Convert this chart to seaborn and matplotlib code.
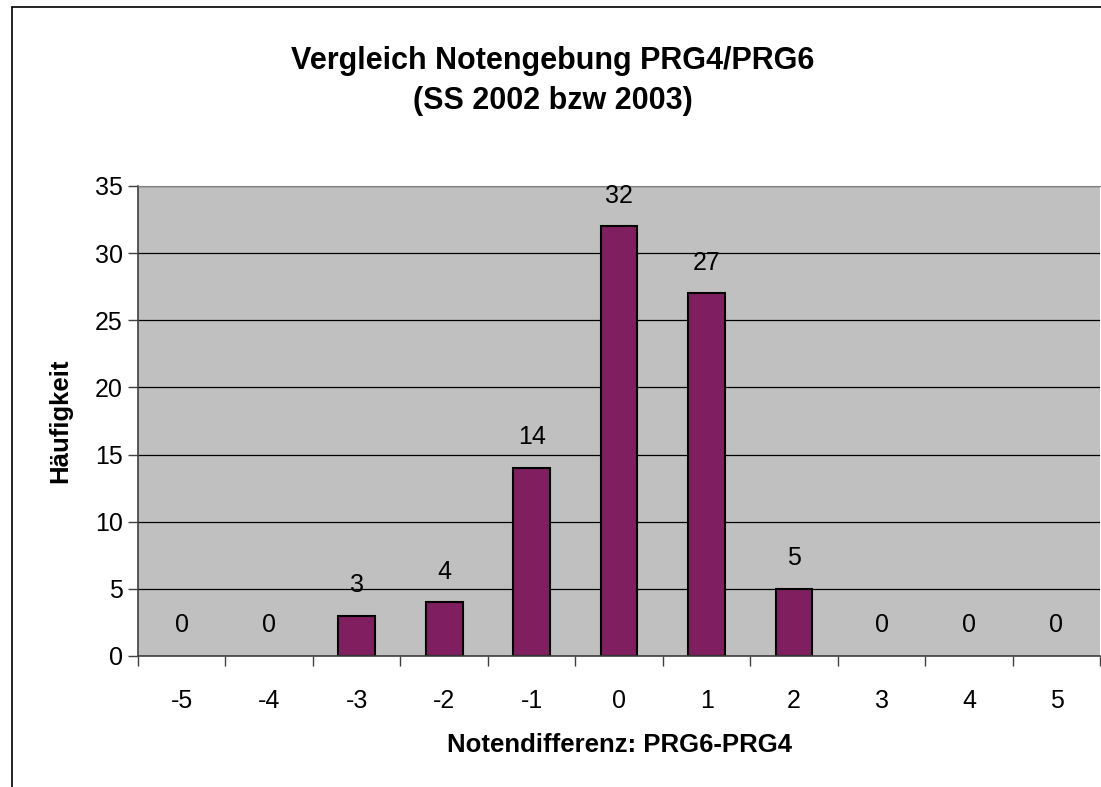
import matplotlib
matplotlib.use("Agg")
import matplotlib.pyplot as plt
import seaborn as sns
import pandas as pd
import numpy as np

# Notendifferenz PRG6-PRG4 and how often it occurred
differenz = ["-5", "-4", "-3", "-2", "-1", "0", "1", "2", "3", "4", "5"]
haeufigkeit = [0, 0, 3, 4, 14, 32, 27, 5, 0, 0, 0]

title = "Vergleich Notengebung PRG4/PRG6\n(SS 2002 bzw 2003)"
xlabel = "Notendifferenz: PRG6-PRG4"
ylabel = "Häufigkeit"

df = pd.DataFrame({"diff": differenz, "count": haeufigkeit})

sns.set_style("white")
plt.rcParams["font.family"] = ["Liberation Sans", "DejaVu Sans"]
plt.rcParams["text.color"] = "black"
plt.rcParams["xtick.color"] = "black"
plt.rcParams["ytick.color"] = "black"
plt.rcParams["axes.labelcolor"] = "black"

fig = plt.figure(figsize=(11.01, 7.87), dpi=100)
ax = fig.add_axes([0.1253, 0.1665, 0.874, 0.5972])
ax.set_facecolor("#c0c0c0")

sns.barplot(data=df, x="diff", y="count", order=differenz, color="#7f1f5f",
            saturation=1, width=0.42, edgecolor="black", linewidth=1.5, ax=ax)
# no visible outline for empty bars
for p in ax.patches:
    if p.get_height() == 0:
        p.set_linewidth(0)

ax.set_ylim(0, 35)
ax.set_xlim(-0.5, len(differenz) - 0.5)
ax.set_yticks(range(0, 36, 5))
ax.yaxis.grid(True, color="black", linewidth=0.9)
ax.set_axisbelow(True)

# data labels above each bar
for i, v in enumerate(haeufigkeit):
    ax.annotate(str(v), (i, v), xytext=(0, 22), textcoords="offset points",
                ha="center", va="center", fontsize=18)

# ticks between categories, labels at centers
ax.tick_params(axis="x", which="major", length=0, pad=24, labelsize=18)
ax.set_xticks(np.arange(-0.5, len(differenz)), minor=True)
ax.tick_params(axis="x", which="minor", length=7, width=1, color="#404040",
               direction="out", bottom=True)
ax.tick_params(axis="y", length=7, width=1, color="#404040", direction="out",
               left=True, pad=4, labelsize=18)

ax.spines["right"].set_visible(False)
ax.spines["left"].set_color("#404040")
ax.spines["bottom"].set_color("#404040")
ax.spines["top"].set_color("#808080")
ax.spines["left"].set_linewidth(1.2)
ax.spines["bottom"].set_linewidth(1.2)

ax.set_xlabel(xlabel, fontsize=18.5, fontweight="bold", labelpad=14)
ax.set_ylabel(ylabel, fontsize=18.5, fontweight="bold", labelpad=16)

fig.text(0.502, 0.897, title, ha="center", va="center", fontsize=22,
         fontweight="bold", linespacing=1.45)

# chart area frame (left and top edge visible)
fig.add_artist(plt.Line2D([0.011, 0.011], [0, 0.991], color="black", lw=1.2,
                          transform=fig.transFigure))
fig.add_artist(plt.Line2D([0.011, 1], [0.991, 0.991], color="black", lw=1.2,
                          transform=fig.transFigure))

fig.savefig("out.png", dpi=100)
